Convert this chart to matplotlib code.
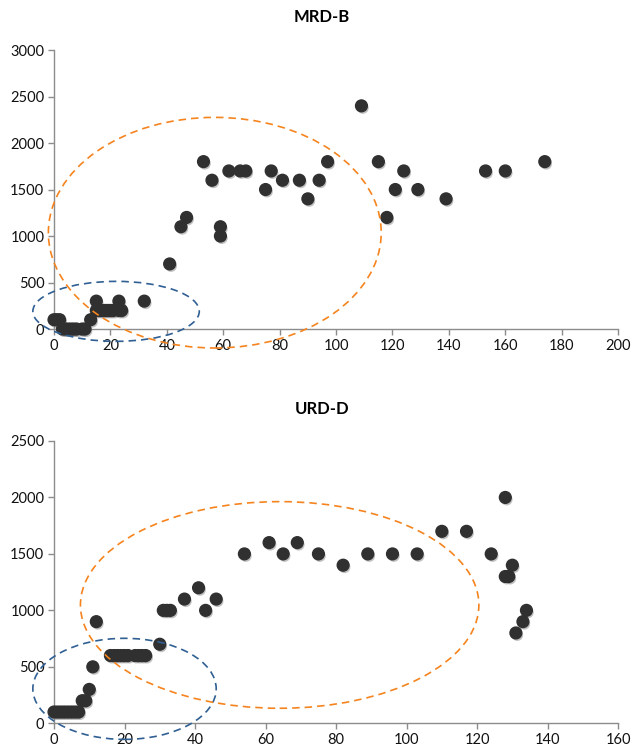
import matplotlib.pyplot as plt
from matplotlib.patches import Ellipse
import matplotlib.patheffects as pe

plt.rcParams['font.family'] = ['Lato', 'DejaVu Sans']

# MRD-B scatter
mrd_x = [0, 1, 2, 3, 4, 5, 6, 7, 8, 10, 11, 13, 15, 15, 16, 17, 18, 19, 20, 21, 23, 23, 24, 32,
         41, 45, 47, 53, 56, 59, 59, 62, 66, 68, 75, 77, 81, 87, 90, 94, 97,
         109, 115, 118, 121, 124, 129, 139, 153, 160, 174]
mrd_y = [100, 100, 100, 0, 0, 0, 0, 0, 0, 0, 0, 100, 200, 300, 200, 200, 200, 200, 200, 200, 300, 200, 200, 300,
         700, 1100, 1200, 1800, 1600, 1100, 1000, 1700, 1700, 1700, 1500, 1700, 1600, 1600, 1400, 1600, 1800,
         2400, 1800, 1200, 1500, 1700, 1500, 1400, 1700, 1700, 1800]

# URD-D scatter
urd_x = [0, 1, 2, 3, 4, 5, 6, 7, 8, 9, 10, 11, 12, 16, 17, 18, 19, 20, 21, 23, 24, 25, 26,
         30, 31, 32, 33, 37, 41, 43, 46, 54, 61, 65, 69, 75, 82, 89, 96, 103,
         110, 117, 124, 128, 130, 128, 129, 134, 133, 131]
urd_y = [100, 100, 100, 100, 100, 100, 100, 100, 200, 200, 300, 500, 900, 600, 600, 600, 600, 600, 600, 600, 600, 600, 600,
         700, 1000, 1000, 1000, 1100, 1200, 1000, 1100, 1500, 1600, 1500, 1600, 1500, 1400, 1500, 1500, 1500,
         1700, 1700, 1500, 2000, 1400, 1300, 1300, 1000, 900, 800]

# highlight ellipses: (center x, center y, width, height)
mrd_blue = (22, 190, 59, 645)
mrd_orange = (57, 1036, 118, 2480)
urd_blue = (20, 305, 52, 895)
urd_orange = (64, 1048, 113, 1830)

BLUE = '#2f5f93'
ORANGE = '#f5841f'
AXIS_GRAY = '#8c8c8c'

fig = plt.figure(figsize=(6.31, 7.55), dpi=100)
ax_top = fig.add_axes([0.0856, 0.5642, 0.894, 0.3695])
ax_bot = fig.add_axes([0.0856, 0.0420, 0.894, 0.3739])


def style_axes(ax, xmax, ymax, ystep):
    ax.set_xlim(0, xmax)
    ax.set_ylim(0, ymax)
    ax.set_xticks(range(0, xmax + 1, 20))
    ax.set_yticks(range(0, ymax + 1, ystep))
    for side in ['top', 'right']:
        ax.spines[side].set_visible(False)
    for side in ['left', 'bottom']:
        ax.spines[side].set_color(AXIS_GRAY)
        ax.spines[side].set_linewidth(1.0)
    ax.tick_params(direction='out', length=4, width=1, color=AXIS_GRAY,
                   labelsize=10.5, labelcolor='#111111', pad=3)


def draw_points(ax, xs, ys):
    ax.scatter(xs, ys, s=72, color='#303030', zorder=3, clip_on=False,
               path_effects=[pe.SimplePatchShadow(offset=(1, -1.5), shadow_rgbFace='#777777', alpha=0.45),
                             pe.Normal()])


def draw_ellipse(ax, spec, color):
    cx, cy, w, h = spec
    ax.add_patch(Ellipse((cx, cy), w, h, fill=False, edgecolor=color, linewidth=1.2,
                         linestyle=(0, (4.5, 3)), clip_on=False, zorder=4))


style_axes(ax_top, 200, 3000, 500)
draw_points(ax_top, mrd_x, mrd_y)
draw_ellipse(ax_top, mrd_blue, BLUE)
draw_ellipse(ax_top, mrd_orange, ORANGE)

style_axes(ax_bot, 160, 2500, 500)
draw_points(ax_bot, urd_x, urd_y)
draw_ellipse(ax_bot, urd_blue, BLUE)
draw_ellipse(ax_bot, urd_orange, ORANGE)

fig.text(0.51, 0.978, 'MRD-B', ha='center', va='center', fontsize=12, fontweight='bold')
fig.text(0.51, 0.458, 'URD-D', ha='center', va='center', fontsize=12, fontweight='bold')

fig.savefig('out.png', dpi=100)
